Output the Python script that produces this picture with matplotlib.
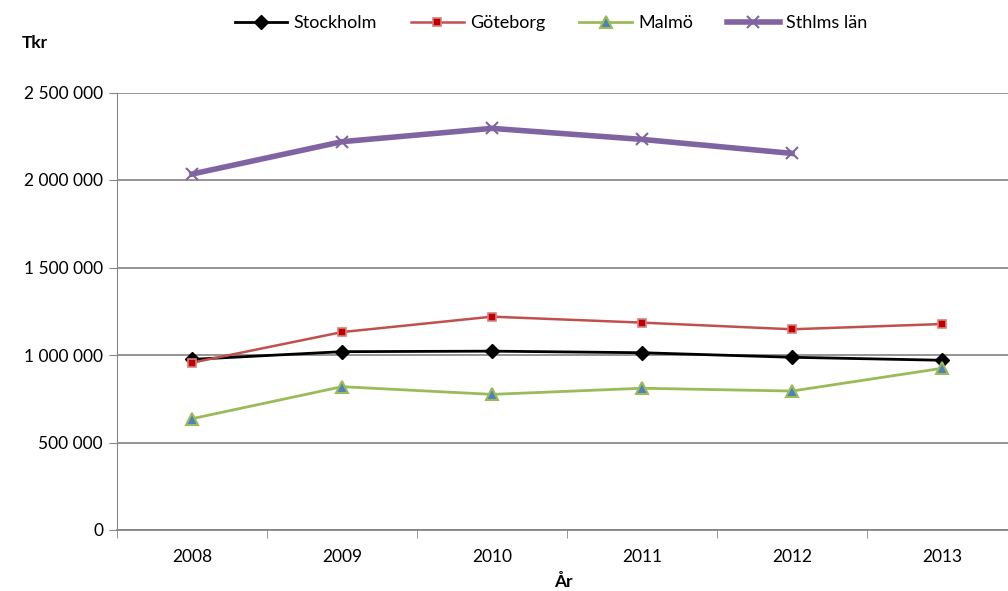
import matplotlib
matplotlib.use("Agg")
import matplotlib.pyplot as plt
from matplotlib.ticker import FuncFormatter, MultipleLocator

plt.rcParams['font.family'] = ['Lato', 'DejaVu Sans']

years = ['2008', '2009', '2010', '2011', '2012', '2013']
stockholm = [975000, 1019000, 1022000, 1013000, 987000, 970000]
goteborg = [956000, 1131000, 1219000, 1185000, 1147000, 1177000]
malmo = [636000, 819000, 775000, 810000, 794000, 924000]
sthlms_lan = [2034000, 2219000, 2295000, 2232000, 2152000]

fig = plt.figure(figsize=(10.08, 5.91), dpi=100)
ax = fig.add_axes([117 / 1008, 1 - 530 / 591, 900 / 1008, 437.5 / 591])

x = list(range(len(years)))
ax.plot(x, stockholm, color='black', lw=2, marker='D', ms=7,
        mfc='black', mec='black', label='Stockholm', zorder=3)
ax.plot(x, goteborg, color='#C0504D', lw=1.8, marker='s', ms=6,
        mfc='#C00000', mec='#D87F7C', mew=1.2, label='Göteborg', zorder=3)
ax.plot(x, malmo, color='#9BBB59', lw=2, marker='^', ms=9,
        mfc='#4F81BD', mec='#9BBB59', mew=1.5, label='Malmö', zorder=3)
ax.plot(x[:len(sthlms_lan)], sthlms_lan, color='#8064A2', lw=4, marker='x',
        ms=9, mew=1.5, mec='#8064A2', label='Sthlms län', zorder=3)

ax.set_xlim(-0.5, 5.5)
ax.set_ylim(0, 2500000)
ax.yaxis.set_major_locator(MultipleLocator(500000))
ax.yaxis.set_major_formatter(FuncFormatter(lambda v, p: f"{int(v):,}".replace(",", " ")))
ax.set_xticks(x)
ax.set_xticklabels(years)
ax.set_xticks([i - 0.5 for i in range(len(years) + 1)], minor=True)
ax.tick_params(axis='x', which='major', length=0, pad=14, labelsize=12.5)
ax.tick_params(axis='x', which='minor', length=6, color='#868686', direction='out')
ax.tick_params(axis='y', length=6, color='#868686', labelsize=12.5, pad=4)

ax.grid(axis='y', color='#8C8C8C', lw=1.3)
ax.set_axisbelow(True)
for s in ['top', 'right']:
    ax.spines[s].set_visible(False)
ax.spines['left'].set_color('#868686')
ax.spines['bottom'].set_color('#868686')
ax.spines['bottom'].set_linewidth(1.3)

fig.text(22 / 1008, 1 - 43 / 591, 'Tkr', fontsize=12.5, fontweight='bold', va='center')
fig.text(563 / 1008, 1 - 582 / 591, 'År', fontsize=12.5, fontweight='bold',
         va='center', ha='center')

fig.legend(loc='center', bbox_to_anchor=(551 / 1008, 1 - 23 / 591), ncol=4,
           frameon=False, fontsize=13, handlelength=2.9, columnspacing=1.9,
           handletextpad=0.35)

fig.savefig('out.png', dpi=100)
